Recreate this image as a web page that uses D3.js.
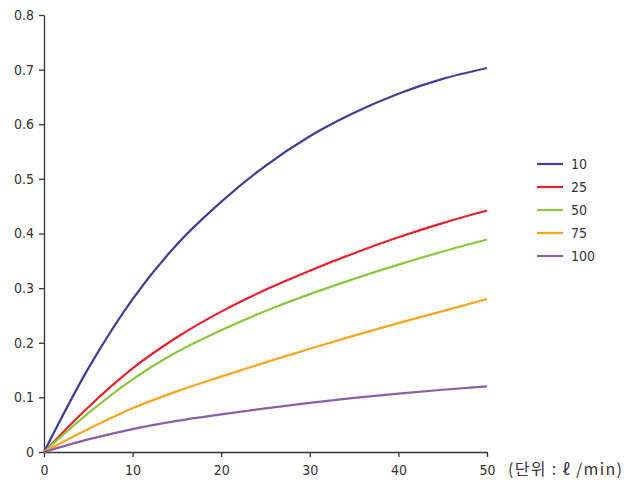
<!DOCTYPE html>
<html>
<head>
<meta charset="utf-8">
<script src="https://cdn.jsdelivr.net/npm/d3@7"></script>
<style>
  html, body { margin: 0; padding: 0; background: #fff; }
  svg { display: block; }
  .ax text { font-family: "Liberation Sans Narrow", "DejaVu Sans Condensed", sans-serif; font-size: 14px; fill: #333; }
  .ax path, .ax line { stroke: #333; stroke-width: 1.3; }
</style>
</head>
<body>
<svg id="chart" width="635" height="484"></svg>
<script>
const xValues = [0, 5, 10, 15, 20, 25, 30, 35, 40, 45, 50];
const seriesNames = ["10", "25", "50", "75", "100"];
const series10  = [0, 0.153, 0.280, 0.380, 0.458, 0.524, 0.578, 0.621, 0.656, 0.683, 0.703];
const series25  = [0, 0.082, 0.153, 0.210, 0.257, 0.297, 0.332, 0.364, 0.393, 0.419, 0.442];
const series50  = [0, 0.071, 0.133, 0.183, 0.223, 0.258, 0.289, 0.317, 0.343, 0.367, 0.389];
const series75  = [0, 0.042, 0.080, 0.111, 0.138, 0.164, 0.189, 0.213, 0.236, 0.258, 0.280];
const series100 = [0, 0.023, 0.042, 0.057, 0.069, 0.080, 0.090, 0.099, 0.107, 0.114, 0.120];
const seriesValues = [series10, series25, series50, series75, series100];
const colors = ["#3d3f98", "#e8212b", "#8dc63f", "#f8a61c", "#8a5ea9"];
const xTicks = [0, 10, 20, 30, 40, 50];
const yTicks = [0, 0.1, 0.2, 0.3, 0.4, 0.5, 0.6, 0.7, 0.8];
const unitLabel = "(단위 : ℓ /min)";

const svg = d3.select("#chart");
const x = d3.scaleLinear().domain([0, 50]).range([44, 487]);
const y = d3.scaleLinear().domain([0, 0.8]).range([452, 15]);

svg.append("g").attr("class", "ax")
  .attr("transform", "translate(0,452)")
  .call(d3.axisBottom(x).tickValues(xTicks).tickSize(5).tickSizeOuter(0).tickPadding(8).tickFormat(d3.format("d")));

svg.append("g").attr("class", "ax")
  .attr("transform", "translate(44,0)")
  .call(d3.axisLeft(y).tickValues(yTicks).tickSize(5).tickSizeOuter(0).tickPadding(5)
    .tickFormat(d => d === 0 ? "0" : d.toFixed(1)));

const line = d3.line()
  .x((d, i) => x(xValues[i]))
  .y(d => y(d))
  .curve(d3.curveMonotoneX);

seriesValues.forEach((vals, k) => {
  svg.append("path")
    .attr("d", line(vals))
    .attr("fill", "none")
    .attr("stroke", colors[k])
    .attr("stroke-width", 2.2);
});

const leg = svg.append("g").attr("transform", "translate(537,164)");
seriesNames.forEach((name, k) => {
  const g = leg.append("g").attr("transform", `translate(0,${k * 23})`);
  g.append("line").attr("x1", 0).attr("x2", 26).attr("y1", 0).attr("y2", 0)
    .attr("stroke", colors[k]).attr("stroke-width", 2.2);
  g.append("text").attr("x", 34).attr("y", 0).attr("dy", "0.35em")
    .style("font-family", '"Liberation Sans Narrow", "DejaVu Sans Condensed", sans-serif')
    .style("font-size", "14px").style("fill", "#333").text(name);
});

svg.append("text")
  .attr("x", 508).attr("y", 469).attr("dy", "0.35em")
  .style("font-family", '"Noto Sans CJK KR", sans-serif')
  .style("font-size", "16px").style("fill", "#333")
  .attr("textLength", 114).attr("lengthAdjust", "spacing")
  .text(unitLabel);
</script>
</body>
</html>
